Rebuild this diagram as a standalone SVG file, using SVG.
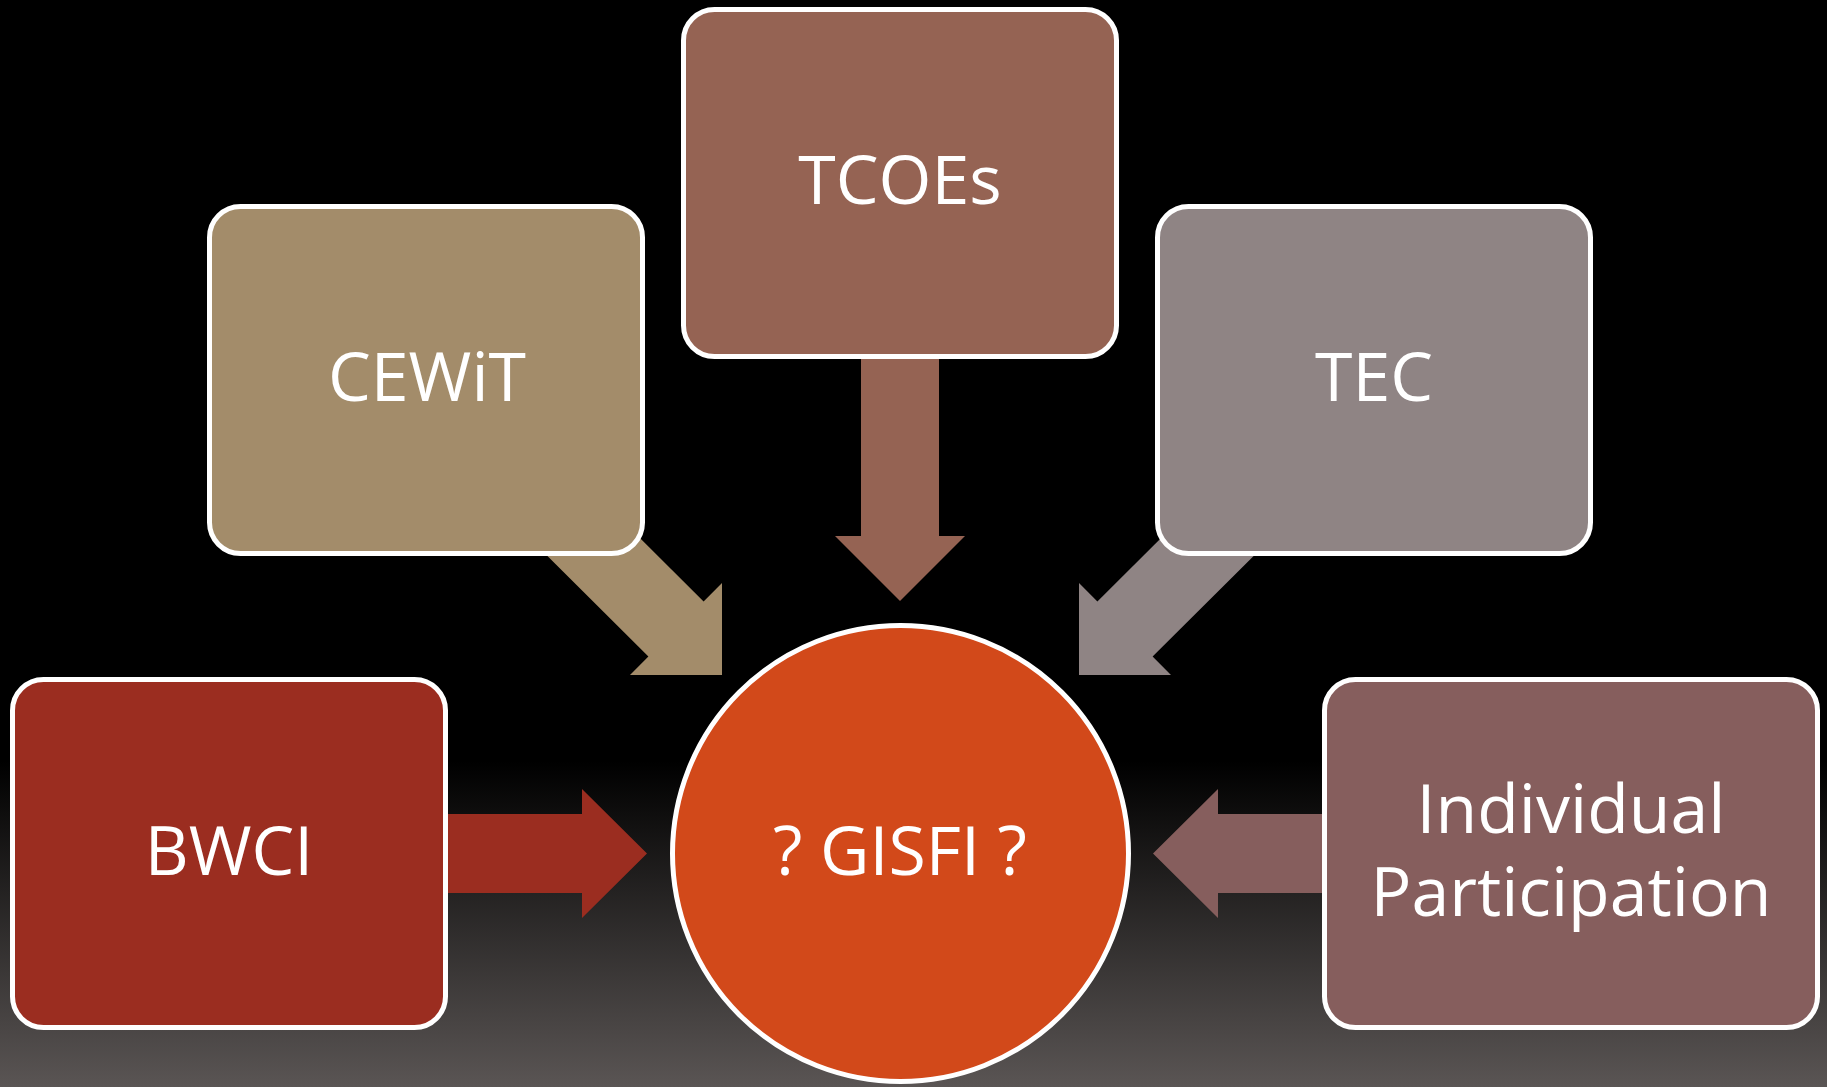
<svg xmlns="http://www.w3.org/2000/svg" width="1827" height="1087" viewBox="0 0 1827 1087">
  <defs>
    <linearGradient id="bg" x1="0" y1="0" x2="0" y2="1">
      <stop offset="0" stop-color="#000000"/>
      <stop offset="0.70" stop-color="#000000"/>
      <stop offset="1" stop-color="#5A5554"/>
    </linearGradient>
  </defs>
  <style>
    .box { stroke: #FFFFFF; stroke-width: 5; }
    .lbl { font-family: "Open Sans", "DejaVu Sans", sans-serif; font-size: 68px; fill: #FFFFFF; text-anchor: middle; }
  </style>
  <rect x="0" y="0" width="1827" height="1087" fill="url(#bg)"/>

  <g id="connectors">
    <polygon fill="#9B2D20" points="229,814 582,814 582,789 647,853.5 582,918 582,893 229,893"/>
    <polygon fill="#865E5D" points="1571,814 1218,814 1218,789 1153,853.5 1218,918 1218,893 1571,893"/>
    <polygon fill="#956353" points="861,183 939,183 939,536 965,536 900,601 835,536 861,536"/>
    <polygon fill="#A38C6A" points="453.6,352.4 703.6,601.4 722,583 722,675 630,675 648.4,656.6 398.4,407.6"/>
    <polygon fill="#8F8484" points="1347.4,352.4 1097.4,601.4 1079,583 1079,675 1171,675 1152.6,656.6 1402.6,407.6"/>
  </g>

  <g id="node-gisfi">
    <circle class="box" cx="900.5" cy="853.5" r="228" fill="#D2491A"/>
    <text class="lbl" x="900" y="875">? GISFI ?</text>
  </g>
  <g id="node-bwci">
    <rect class="box" x="12.5" y="679.5" width="433" height="348" rx="31" fill="#9B2D20"/>
    <text class="lbl" x="229" y="875">BWCI</text>
  </g>
  <g id="node-cewit">
    <rect class="box" x="209.5" y="206.5" width="433" height="347" rx="31" fill="#A38C6A"/>
    <text class="lbl" x="427" y="401">CEWiT</text>
  </g>
  <g id="node-tcoes">
    <rect class="box" x="683.5" y="9.5" width="433" height="347" rx="31" fill="#956353"/>
    <text class="lbl" x="900" y="204">TCOEs</text>
  </g>
  <g id="node-tec">
    <rect class="box" x="1157.5" y="206.5" width="433" height="347" rx="31" fill="#8F8484"/>
    <text class="lbl" x="1374" y="401">TEC</text>
  </g>
  <g id="node-individual">
    <rect class="box" x="1324.5" y="679.5" width="493" height="348" rx="31" fill="#865E5D"/>
    <text class="lbl" x="1571" y="833">Individual</text>
    <text class="lbl" x="1571" y="916">Participation</text>
  </g>
</svg>
